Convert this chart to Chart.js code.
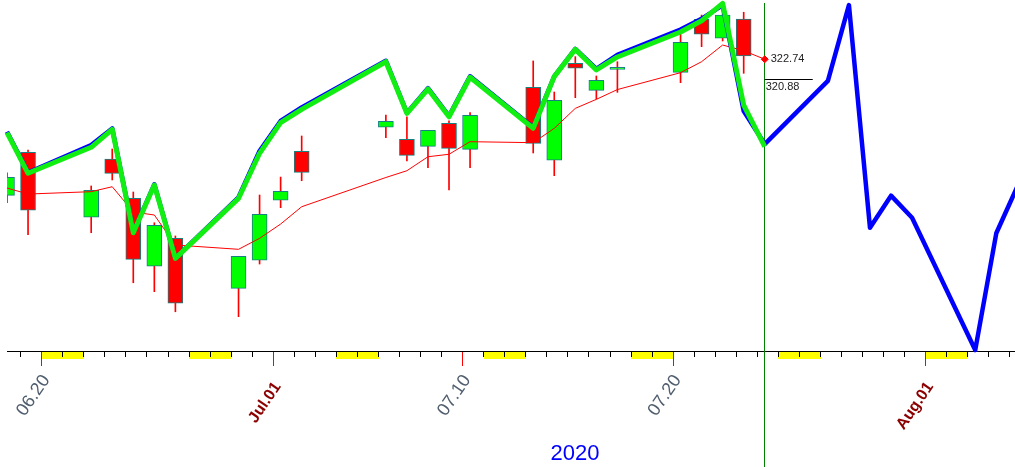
<!DOCTYPE html>
<html>
<head>
<meta charset="utf-8">
<script src="https://cdn.jsdelivr.net/npm/chart.js@4/dist/chart.umd.min.js"></script>
<style>
  html, body { margin: 0; padding: 0; background: #fff; }
  #wrap { width: 1015px; height: 467px; position: relative; }
</style>
</head>
<body>
<div id="wrap"><canvas id="chart"></canvas></div>
<script>
// trading days shown as candles
const dates = ['2020-06-18','2020-06-19','2020-06-22','2020-06-23','2020-06-24','2020-06-25','2020-06-26',
  '2020-06-29','2020-06-30','2020-07-01','2020-07-02','2020-07-06','2020-07-07','2020-07-08','2020-07-09',
  '2020-07-10','2020-07-13','2020-07-14','2020-07-15','2020-07-16','2020-07-17','2020-07-20','2020-07-21',
  '2020-07-22','2020-07-23'];
const open  = [310.08,314.08,308.04,313.46,309.80,303.48,306.08,301.43,304.04,309.62,314.18,316.41,315.29,
  314.64,316.78,314.36,320.13,313.34,322.36,319.85,321.80,321.52,326.45,324.69,326.48];
const high  = [312.18,314.30,310.95,314.39,310.39,307.53,306.30,304.41,310.11,311.78,315.60,317.55,317.39,
  316.13,317.02,317.77,322.58,319.69,322.98,321.18,322.51,325.09,326.85,327.16,327.11];
const low   = [309.39,306.42,306.60,311.51,301.95,301.12,299.25,298.79,303.69,308.93,311.44,315.44,313.27,
  312.65,310.58,312.65,314.02,311.91,319.16,319.04,319.66,320.56,323.91,324.44,321.43];
const close = [311.76,308.69,310.55,312.13,304.13,307.29,300.04,304.41,308.31,310.45,312.22,316.97,313.80,
  316.13,314.45,317.52,314.92,318.92,321.90,320.78,321.82,324.32,325.06,326.85,323.04];

// moving average and green line go one day further (Jul 24)
const lineDates = dates.concat(['2020-07-24']);
const maValues = [310.76,310.20,310.42,310.88,308.53,308.25,305.46,305.06,306.08,307.41,309.02,311.74,312.37,
  313.67,313.90,315.07,314.98,316.31,318.17,319.01,319.92,321.49,322.51,324.06,323.53,322.74];
const greenValues = [315.91,312.13,314.55,316.22,306.60,311.04,304.22,309.80,313.99,316.84,318.08,322.51,317.71,
  319.97,317.39,321.06,316.32,321.12,323.66,321.74,322.95,325.27,326.32,327.94,318.48,314.60];

// blue line continues as a forecast
const blueDates = lineDates.concat(['2020-07-27','2020-07-28','2020-07-29','2020-07-30','2020-07-31',
  '2020-08-03','2020-08-04','2020-08-05']);
const blueValues = [316.00,312.20,314.75,316.30,306.65,311.10,304.25,309.90,314.20,317.00,318.25,322.60,317.75,
  320.05,317.45,321.15,316.40,321.15,323.70,321.85,323.15,325.50,326.50,327.78,317.92,314.85,
  320.72,327.78,307.07,310.05,308.00,295.69,306.55,310.90];

const lastClose = 320.88;
const currentDate = '2020-07-24';

// x axis labels
const tickDates  = ['2020-06-20','2020-07-01','2020-07-10','2020-07-20','2020-08-01'];
const tickLabels = ['06.20','Jul.01','07.10','07.20','Aug.01'];
const tickIsMonth = [false, true, false, false, true];
const yearLabel = '2020';

const DAY = 864e5;
const BASE = Date.parse('2020-06-01');
function dayNum(s) { return (Date.parse(s) - BASE) / DAY + 1; }
const OFF = 0.35; // candles sit a bit after the day tick

const xOf = s => dayNum(s) + OFF;
const wickData = dates.map((d, i) => ({ x: xOf(d), y: [low[i], high[i]] }));
const bodyData = dates.map((d, i) => ({ x: xOf(d), y: [open[i], close[i]] }));
const bodyColors = dates.map((d, i) => close[i] >= open[i] ? '#00ff00' : '#ff0000');

const FONT = "'Liberation Sans', Arial, sans-serif";

const axisDeco = {
  id: 'axisDeco',
  beforeDatasetsDraw(chart) {
    const { ctx, chartArea: a, scales: { x } } = chart;
    ctx.save();
    // weekend bands
    ctx.fillStyle = '#ffff00';
    for (let d = Math.floor(x.min) - 2; d <= Math.ceil(x.max); d++) {
      const wd = new Date(BASE + (d - 1) * DAY).getUTCDay();
      if (wd !== 6) continue;
      const x0 = Math.max(a.left, Math.round(x.getPixelForValue(d)));
      const x1 = Math.min(a.right, Math.round(x.getPixelForValue(d + 2)));
      if (x1 > x0) ctx.fillRect(x0, a.bottom + 1, x1 - x0, 7);
    }
    // axis line
    ctx.strokeStyle = '#000';
    ctx.lineWidth = 1;
    ctx.beginPath();
    ctx.moveTo(a.left, a.bottom + 0.5);
    ctx.lineTo(a.right, a.bottom + 0.5);
    ctx.stroke();
    // day ticks
    ctx.beginPath();
    for (let d = Math.ceil(x.min); d <= x.max; d++) {
      const px = Math.floor(x.getPixelForValue(d)) + 0.5;
      ctx.moveTo(px, a.bottom);
      ctx.lineTo(px, a.bottom + 6);
    }
    ctx.stroke();
    // labelled ticks
    ctx.strokeStyle = '#ff0000';
    ctx.beginPath();
    tickDates.forEach(s => {
      const px = Math.floor(x.getPixelForValue(dayNum(s))) + 0.5;
      ctx.moveTo(px, a.bottom + 1);
      ctx.lineTo(px, a.bottom + 15);
    });
    ctx.stroke();
    // current day marker
    const cx = Math.floor(x.getPixelForValue(xOf(currentDate))) + 0.5;
    ctx.strokeStyle = '#008000';
    ctx.beginPath();
    ctx.moveTo(cx, 3);
    ctx.lineTo(cx, chart.height);
    ctx.stroke();
    ctx.restore();
  },
  afterDraw(chart) {
    const { ctx, chartArea: a, scales: { x, y } } = chart;
    ctx.save();
    tickDates.forEach((s, i) => {
      const px = x.getPixelForValue(dayNum(s));
      const month = tickIsMonth[i];
      ctx.save();
      ctx.translate(px + 4.5, a.bottom + (month ? 33 : 26));
      ctx.rotate(-55.5 * Math.PI / 180);
      ctx.textAlign = 'right';
      ctx.textBaseline = 'middle';
      ctx.fillStyle = month ? '#8b0000' : '#4f5d6e';
      ctx.font = month ? 'bold 16px ' + FONT : '18px ' + FONT;
      ctx.fillText(tickLabels[i], 0, 0);
      ctx.restore();
    });
    // year
    ctx.fillStyle = '#0000ff';
    ctx.font = '22px ' + FONT;
    ctx.textAlign = 'center';
    ctx.textBaseline = 'alphabetic';
    ctx.fillText(yearLabel, 575, 460);

    // price labels at the current day
    const cx = x.getPixelForValue(xOf(currentDate));
    const maLast = maValues[maValues.length - 1];
    ctx.fillStyle = '#222';
    ctx.font = '11px ' + FONT;
    ctx.textAlign = 'left';
    ctx.textBaseline = 'middle';
    ctx.fillText(maLast.toFixed(2), cx + 6, y.getPixelForValue(maLast));
    const ly = Math.round(y.getPixelForValue(lastClose)) + 0.5;
    ctx.strokeStyle = '#000';
    ctx.lineWidth = 1;
    ctx.beginPath();
    ctx.moveTo(cx, ly);
    ctx.lineTo(cx + 48, ly);
    ctx.stroke();
    ctx.textBaseline = 'top';
    ctx.fillText(lastClose.toFixed(2), cx + 1, ly + 2);
    ctx.restore();
  }
};

new Chart(document.getElementById('chart'), {
  type: 'bar',
  data: {
    datasets: [
      {
        type: 'line',
        data: lineDates.map((d, i) => ({ x: xOf(d), y: greenValues[i] })),
        borderColor: '#11ee11',
        borderWidth: 5,
        pointRadius: 0,
        tension: 0,
        borderJoinStyle: 'round',
        clip: 4,
        order: 1
      },
      {
        type: 'line',
        data: blueDates.map((d, i) => ({ x: xOf(d), y: blueValues[i] })),
        borderColor: '#0000ff',
        borderWidth: 4.5,
        pointRadius: 0,
        tension: 0,
        borderJoinStyle: 'round',
        clip: 4,
        order: 2
      },
      {
        type: 'line',
        data: lineDates.map((d, i) => ({ x: xOf(d), y: maValues[i] })),
        borderColor: '#ff0000',
        borderWidth: 1,
        pointRadius: c => c.dataIndex === maValues.length - 1 ? 3.5 : 0,
        pointStyle: 'rectRot',
        pointBackgroundColor: '#ff0000',
        pointBorderColor: '#ff0000',
        tension: 0,
        order: 3
      },
      {
        data: bodyData,
        backgroundColor: bodyColors,
        borderColor: '#178080',
        borderWidth: 1,
        borderSkipped: false,
        barThickness: 15,
        minBarLength: 2,
        grouped: false,
        order: 4
      },
      {
        data: wickData,
        backgroundColor: '#ff0000',
        borderWidth: 0,
        barThickness: 1,
        grouped: false,
        order: 5
      }
    ]
  },
  options: {
    responsive: true,
    maintainAspectRatio: false,
    devicePixelRatio: 1,
    animation: false,
    events: [],
    layout: { autoPadding: false, padding: { left: 7, right: 0, top: 0, bottom: 116 } },
    plugins: { legend: { display: false }, tooltip: { enabled: false } },
    scales: {
      x: {
        type: 'linear',
        display: false,
        offset: false,
        min: dayNum(dates[0]) + OFF,
        max: dayNum(dates[0]) + OFF + 47.89
      },
      y: {
        type: 'linear',
        display: false,
        min: 295.6,
        max: 328.25
      }
    }
  },
  plugins: [axisDeco]
});
</script>
</body>
</html>
